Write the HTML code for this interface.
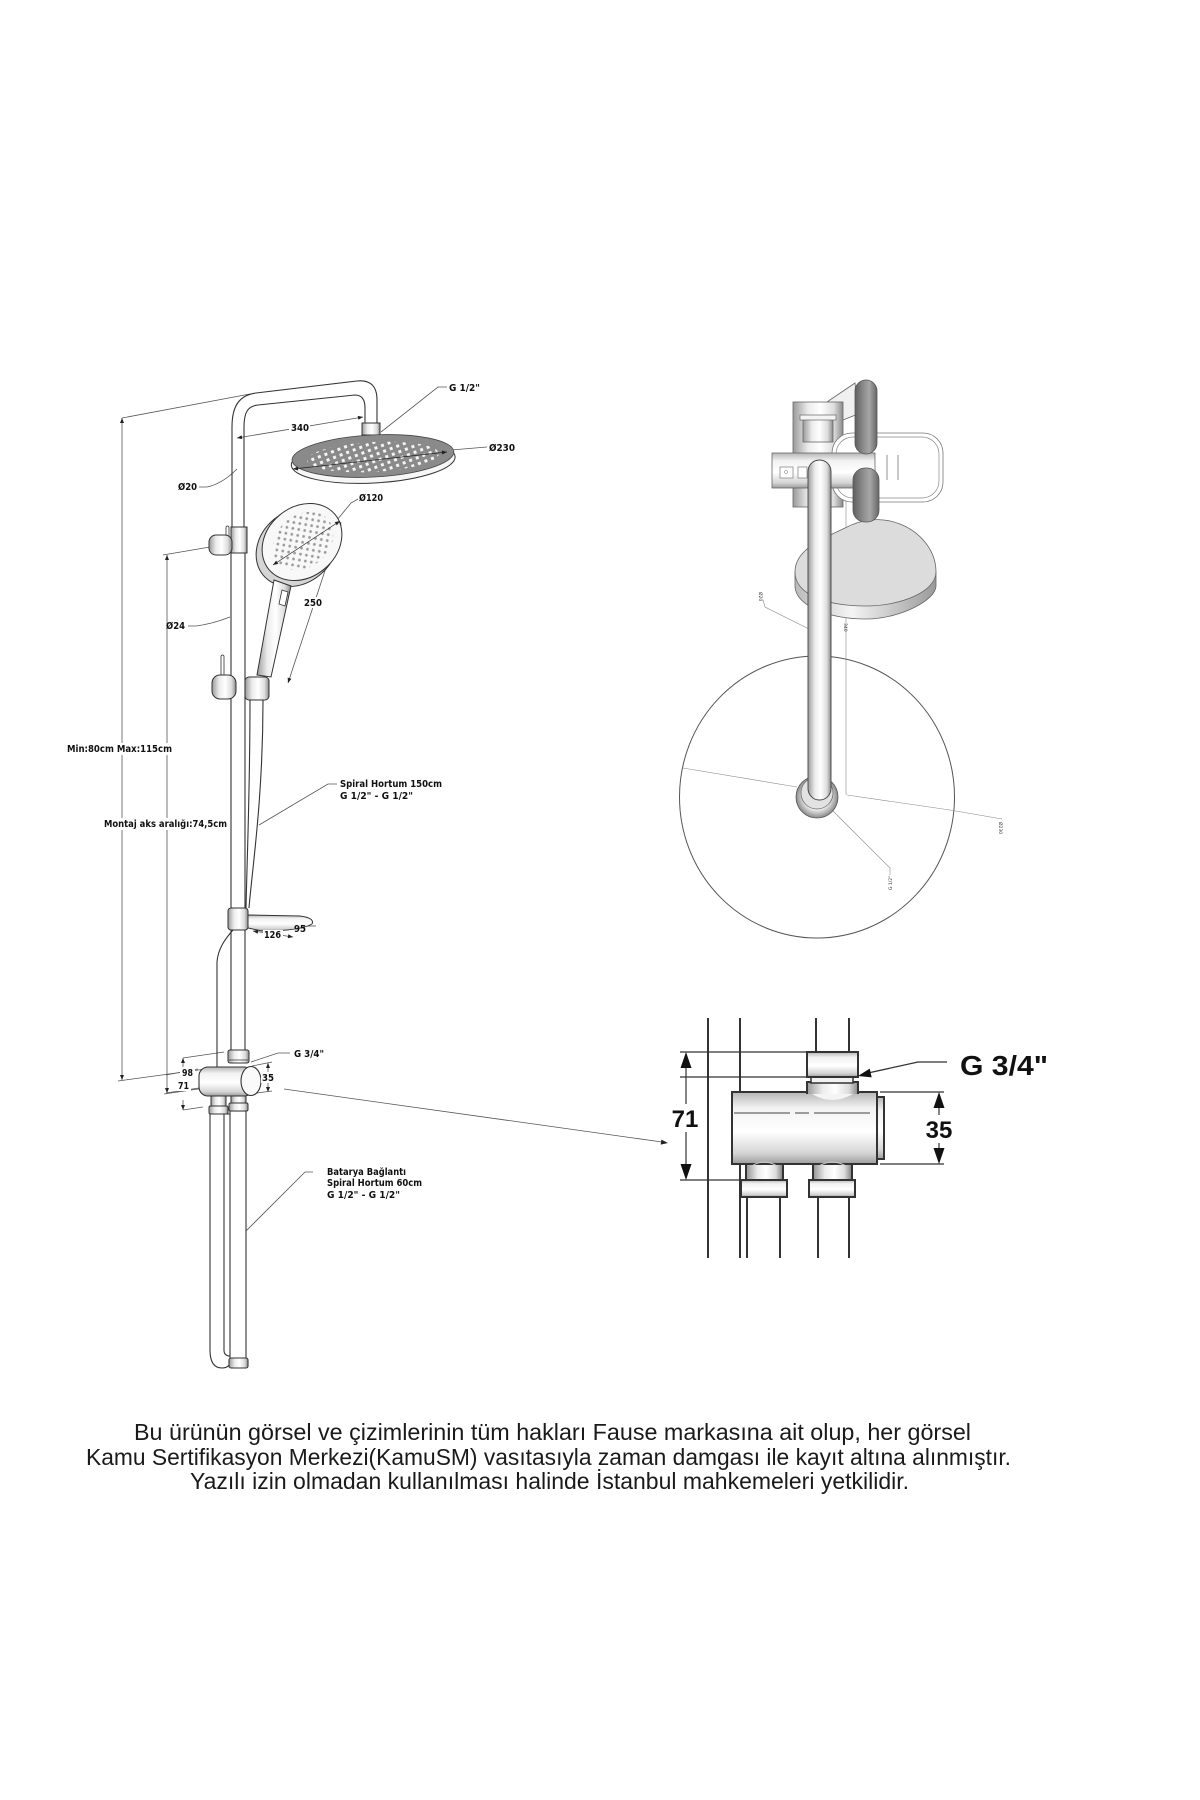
<!DOCTYPE html>
<html><head><meta charset="utf-8">
<style>html,body{margin:0;padding:0;background:#fff}svg{display:block}
.lb{font-family:"DejaVu Sans","Liberation Sans",sans-serif;font-weight:bold;font-size:9.5px;fill:#111}
.big{font-family:"Liberation Sans","DejaVu Sans",sans-serif;font-weight:bold;fill:#111}
.ft{font-family:"Liberation Sans","DejaVu Sans",sans-serif;font-size:23px;fill:#1a1a1a}
.tiny{font-family:"DejaVu Sans",sans-serif;font-size:4.5px;fill:#333}
</style></head>
<body>
<svg width="1200" height="1800" viewBox="0 0 1200 1800" xmlns="http://www.w3.org/2000/svg">
<defs>
 <marker id="ar" viewBox="0 0 10 10" refX="10" refY="5" markerWidth="6" markerHeight="5" markerUnits="userSpaceOnUse" orient="auto-start-reverse"><path d="M0,1 L10,5 L0,9 Z" fill="#222"/></marker>
 <linearGradient id="gV" x1="0" y1="0" x2="1" y2="0">
  <stop offset="0" stop-color="#9a9a9a"/><stop offset=".3" stop-color="#ececec"/><stop offset=".55" stop-color="#fff"/><stop offset=".82" stop-color="#dcdcdc"/><stop offset="1" stop-color="#8a8a8a"/></linearGradient>
 <linearGradient id="gD" x1="0" y1="0" x2="1" y2="0">
  <stop offset="0" stop-color="#606060"/><stop offset=".4" stop-color="#8e8e8e"/><stop offset=".65" stop-color="#a6a6a6"/><stop offset="1" stop-color="#666"/></linearGradient>
 <linearGradient id="gH" x1="0" y1="0" x2="0" y2="1">
  <stop offset="0" stop-color="#b5b5b5"/><stop offset=".22" stop-color="#f2f2f2"/><stop offset=".55" stop-color="#fff"/><stop offset=".85" stop-color="#d5d5d5"/><stop offset="1" stop-color="#9c9c9c"/></linearGradient>
 <linearGradient id="gRim" x1="0" y1="0" x2="1" y2="0">
  <stop offset="0" stop-color="#bbb"/><stop offset=".4" stop-color="#f4f4f4"/><stop offset="1" stop-color="#9a9a9a"/></linearGradient>
 <radialGradient id="gRing" cx=".5" cy=".5" r=".5"><stop offset=".6" stop-color="#eee"/><stop offset="1" stop-color="#8a8a8a"/></radialGradient>
 <pattern id="rd" width="7" height="6" patternUnits="userSpaceOnUse" patternTransform="rotate(-18)"><rect x="1" y="1" width="3" height="3" fill="#f4f4f4"/></pattern>
 <pattern id="hd" width="6" height="6" patternUnits="userSpaceOnUse" patternTransform="rotate(-40)"><circle cx="3" cy="3" r="1.4" fill="#9a9a9a"/></pattern>
</defs>
<rect width="1200" height="1800" fill="#fff"/>

<!-- ============ LEFT DRAWING ============ -->
<g fill="none" stroke="#555" stroke-width="0.8">
 <line x1="122" y1="418" x2="122" y2="1080" marker-start="url(#ar)" marker-end="url(#ar)"/>
 <line x1="122" y1="418" x2="250" y2="394"/>
 <line x1="118" y1="1081" x2="213" y2="1068"/>
 <line x1="167" y1="555" x2="167" y2="1093" marker-start="url(#ar)" marker-end="url(#ar)"/>
 <line x1="163" y1="555" x2="210" y2="547"/>
 <line x1="164" y1="1094" x2="205" y2="1088"/>
 <!-- 340 -->
 <line x1="237" y1="438" x2="363" y2="417" marker-start="url(#ar)" marker-end="url(#ar)"/>
 <!-- Ø20 -->
 <path d="M199,487 L207,487 Q222,484 237,469"/>
 <!-- Ø24 -->
 <path d="M188,626 L196,626 Q212,624 230,617"/>
 <!-- G1/2 leader -->
 <path d="M447,387 L438,387 L381,432"/>
 <!-- Ø230 leader -->
 <line x1="451" y1="450" x2="487" y2="447"/>
 <!-- Ø120 leader -->
 <path d="M358,499 L351,503 L337,520"/>
 <!-- 250 -->
 <line x1="341" y1="522" x2="288" y2="683" marker-start="url(#ar)" marker-end="url(#ar)"/>
 <!-- spiral leader -->
 <path d="M337,784 L328,784 L259,825"/>
 <!-- batarya leader -->
 <path d="M313,1172 L305,1172 L242,1235"/>
 <!-- G3/4 small leader -->
 <path d="M290,1053 L278,1053 L251,1062"/>
 <!-- 98/71 dims -->
 <line x1="183" y1="1058" x2="183" y2="1067" marker-start="url(#ar)"/>
 <line x1="183" y1="1100" x2="183" y2="1110" marker-end="url(#ar)"/>
 <line x1="183" y1="1058" x2="224" y2="1052"/>
 <line x1="183" y1="1110" x2="203" y2="1107"/>
 <line x1="166" y1="1075" x2="198" y2="1069"/>
 <line x1="166" y1="1093" x2="199" y2="1088"/>
 <!-- 35 small -->
 <line x1="268" y1="1063" x2="268" y2="1092" marker-start="url(#ar)" marker-end="url(#ar)"/>
 <line x1="252" y1="1066" x2="272" y2="1062"/>
 <line x1="257" y1="1093" x2="272" y2="1091"/>
 <!-- 126 / 95 -->
 <line x1="253" y1="931" x2="293" y2="937" marker-start="url(#ar)" marker-end="url(#ar)"/>
 <line x1="307" y1="926" x2="316" y2="926"/>
 <!-- long connector -->
 <line x1="284" y1="1089" x2="662" y2="1142"/>
</g>
<polygon points="668,1143 660.7,1144.6 661.4,1139.6" fill="#222"/>

<!-- poles -->
<g stroke="#333" stroke-width="1.1" fill="none">
 <path d="M232,527 L232,427 C232,405 240,395 256,393 L357,381 Q377,379 377,400 L377,424"/>
 <path d="M244,527 L244,427 C244,412 248,406 258,405 L355,395 Q365,395 365,408 L365,424"/>
 <line x1="231" y1="553" x2="231" y2="1050"/>
 <line x1="245" y1="553" x2="245" y2="1050"/>
 <!-- hose between slider and dish -->
 <path d="M250,700 C250,790 247,860 246,908"/>
 <path d="M263,700 C263,800 252,870 249,908"/>
 <!-- hose below dish -->
 <path d="M233,930 C226,938 218,948 217,962 L217,1068"/>
</g>
<!-- connector -->
<rect x="362" y="423" width="18" height="12" fill="url(#gV)" stroke="#333" stroke-width="1"/>
<!-- rain head -->
<g transform="rotate(-3 373 457)">
 <ellipse cx="373" cy="461" rx="82" ry="22" fill="#f6f6f6" stroke="#333" stroke-width="1"/>
 <ellipse cx="373" cy="456" rx="81" ry="21" fill="#8a8a8a" stroke="#444" stroke-width="0.8"/>
 <ellipse cx="373" cy="457" rx="66" ry="15" fill="url(#rd)"/>
</g>
<line x1="293" y1="469" x2="447" y2="452" stroke="#222" stroke-width="0.7" marker-start="url(#ar)" marker-end="url(#ar)"/>
<!-- upper collar & knob -->
<rect x="231" y="527" width="16" height="26" fill="url(#gV)" stroke="#333" stroke-width="1"/>
<rect x="226" y="526" width="3" height="12" rx="1.5" fill="#fff" stroke="#333" stroke-width="0.8"/>
<rect x="209" y="535" width="23" height="20" rx="7" fill="url(#gV)" stroke="#333" stroke-width="1"/>
<!-- hand shower -->
<ellipse cx="297" cy="547" rx="44" ry="36" transform="rotate(-40 297 547)" fill="#d5d5d5" stroke="#333" stroke-width="1"/>
<ellipse cx="302" cy="542" rx="43" ry="35" transform="rotate(-40 302 542)" fill="#f8f8f8" stroke="#333" stroke-width="1"/>
<ellipse cx="303" cy="541" rx="33" ry="26" transform="rotate(-40 303 541)" fill="url(#hd)"/>
<line x1="273" y1="565" x2="340" y2="521" stroke="#222" stroke-width="0.7" marker-start="url(#ar)" marker-end="url(#ar)"/>
<path d="M274,580 L291,586 L271,677 L257,675 Z" fill="url(#gV)" stroke="#333" stroke-width="1"/>
<path d="M282,590 L288,592 L285,606 L279,604 Z" fill="#fff" stroke="#333" stroke-width="0.8"/>
<!-- slider -->
<rect x="221" y="655" width="3" height="21" rx="1.5" fill="#fff" stroke="#333" stroke-width="0.8"/>
<rect x="245" y="677" width="24" height="23" rx="4" fill="url(#gV)" stroke="#333" stroke-width="1"/>
<rect x="212" y="675" width="24" height="24" rx="8" fill="url(#gV)" stroke="#333" stroke-width="1"/>
<!-- soap dish -->
<path d="M248,915 L300,916 Q315,918 312,924 Q300,931 262,931 L248,928 Z" fill="url(#gH)" stroke="#333" stroke-width="1"/>
<rect x="228" y="908" width="20" height="22" rx="3" fill="url(#gV)" stroke="#333" stroke-width="1"/>
<!-- lower pipes -->
<g stroke="#333" stroke-width="1.1" fill="#fff">
 <path d="M210,1114 L210,1350 Q210,1368 222,1368 Q231,1368 231,1358 L231,1114 Z" fill="#fff"/>
 <path d="M224,1114 L224,1350 Q224,1356 230,1356" fill="none"/>
 <rect x="230" y="1111" width="16" height="248" fill="#fff"/>
 <rect x="229" y="1358" width="19" height="10" rx="2" fill="url(#gV)"/>
</g>
<!-- diverter -->
<rect x="228" y="1050" width="21" height="13" rx="2" fill="url(#gV)" stroke="#333" stroke-width="1"/>
<line x1="229" y1="1060" x2="248" y2="1060" stroke="#333" stroke-width="0.7"/>
<rect x="211" y="1093" width="15" height="14" fill="url(#gV)" stroke="#333" stroke-width="1"/>
<rect x="231" y="1093" width="15" height="11" fill="url(#gV)" stroke="#333" stroke-width="1"/>
<rect x="209" y="1106" width="19" height="8" rx="1.5" fill="url(#gV)" stroke="#333" stroke-width="1"/>
<rect x="229" y="1103" width="19" height="8" rx="1.5" fill="url(#gV)" stroke="#333" stroke-width="1"/>
<rect x="199" y="1067" width="54" height="29" rx="9" fill="url(#gH)" stroke="#333" stroke-width="1.1"/>
<ellipse cx="251" cy="1081" rx="10" ry="14.5" fill="#fafafa" stroke="#333" stroke-width="1.1"/>

<!-- label backgrounds -->
<g fill="#fff">
 <rect x="66" y="743" width="108" height="12"/>
 <rect x="103" y="818" width="126" height="12"/>
 <rect x="289" y="421" width="21" height="11"/>
 <rect x="302" y="597" width="22" height="11"/>
 <rect x="263" y="930" width="20" height="10"/>
 <rect x="180" y="1067" width="15" height="11"/>
 <rect x="176" y="1080" width="15" height="11"/>
 <rect x="261" y="1072" width="14" height="11"/>
</g>
<!-- labels -->
<text class="lb" x="449" y="391" textLength="31" lengthAdjust="spacingAndGlyphs">G 1/2"</text>
<text class="lb" x="489" y="451" textLength="26" lengthAdjust="spacingAndGlyphs">Ø230</text>
<text class="lb" x="291" y="431" textLength="18" lengthAdjust="spacingAndGlyphs">340</text>
<text class="lb" x="178" y="490" textLength="19" lengthAdjust="spacingAndGlyphs">Ø20</text>
<text class="lb" x="359" y="501" textLength="24" lengthAdjust="spacingAndGlyphs">Ø120</text>
<text class="lb" x="304" y="606" textLength="18" lengthAdjust="spacingAndGlyphs">250</text>
<text class="lb" x="166" y="629" textLength="19" lengthAdjust="spacingAndGlyphs">Ø24</text>
<text class="lb" x="67" y="752" textLength="105" lengthAdjust="spacingAndGlyphs">Min:80cm Max:115cm</text>
<text class="lb" x="340" y="787" textLength="102" lengthAdjust="spacingAndGlyphs">Spiral Hortum 150cm</text>
<text class="lb" x="340" y="799" textLength="73" lengthAdjust="spacingAndGlyphs">G 1/2" - G 1/2"</text>
<text class="lb" x="104" y="827" textLength="123" lengthAdjust="spacingAndGlyphs">Montaj aks aralığı:74,5cm</text>
<text class="lb" x="294" y="932" textLength="12" lengthAdjust="spacingAndGlyphs">95</text>
<text class="lb" x="264" y="938" textLength="17" lengthAdjust="spacingAndGlyphs">126</text>
<text class="lb" x="294" y="1057" textLength="30" lengthAdjust="spacingAndGlyphs">G 3/4"</text>
<text class="lb" x="182" y="1076" textLength="11" lengthAdjust="spacingAndGlyphs">98</text>
<text class="lb" x="178" y="1089" textLength="11" lengthAdjust="spacingAndGlyphs">71</text>
<text class="lb" x="262" y="1081" textLength="12" lengthAdjust="spacingAndGlyphs">35</text>
<text class="lb" x="327" y="1175" textLength="79" lengthAdjust="spacingAndGlyphs">Batarya Bağlantı</text>
<text class="lb" x="327" y="1186" textLength="95" lengthAdjust="spacingAndGlyphs">Spiral Hortum 60cm</text>
<text class="lb" x="327" y="1198" textLength="73" lengthAdjust="spacingAndGlyphs">G 1/2" - G 1/2"</text>

<!-- ============ RIGHT TOP VIEW ============ -->
<ellipse cx="817" cy="797" rx="137.5" ry="141" fill="none" stroke="#555" stroke-width="1"/>
<g stroke="#888" stroke-width="0.6" fill="none">
 <line x1="846" y1="463" x2="846" y2="795"/>
 <path d="M683,768 L797,787"/>
 <path d="M847,795 L950,810 L1002,819"/>
 <path d="M763,600 L765,607 L811,630"/>
 <path d="M825,803 L890,868 L890,875"/>
</g>
<!-- back block -->
<polygon points="827,402 855,383 858,414 843,420" fill="#f0f0f0" stroke="#666" stroke-width="0.8"/>
<rect x="793" y="402" width="50" height="105" fill="url(#gV)" stroke="#666" stroke-width="0.8"/>
<rect x="803" y="418" width="30" height="24" fill="url(#gV)" stroke="#666" stroke-width="0.8"/>
<rect x="800" y="415" width="36" height="5" fill="#f4f4f4" stroke="#666" stroke-width="0.7"/>
<!-- soap dish outline -->
<rect x="832" y="433" width="111" height="69" rx="20" fill="#fff" stroke="#777" stroke-width="0.8"/>
<rect x="836" y="437" width="103" height="61" rx="17" fill="#fff" stroke="#888" stroke-width="0.7"/>
<line x1="887" y1="455" x2="887" y2="480" stroke="#777" stroke-width="0.8"/>
<line x1="898" y1="455" x2="898" y2="480" stroke="#777" stroke-width="0.8"/>
<!-- bar -->
<rect x="772" y="453" width="103" height="35" fill="url(#gH)" stroke="#666" stroke-width="0.8"/>
<rect x="780" y="467" width="13" height="11" fill="#fff" stroke="#666" stroke-width="0.6"/>
<circle cx="786" cy="472" r="1.5" fill="none" stroke="#666" stroke-width="0.5"/>
<rect x="798" y="467" width="9" height="11" fill="#fff" stroke="#666" stroke-width="0.6"/>
<!-- dark pipes -->
<rect x="855" y="380" width="22" height="74" rx="11" fill="url(#gD)" stroke="#555" stroke-width="0.8"/>
<!-- blob -->
<path d="M795,572 L795,586 C795,606 830,619 866,619 C900,619 936,600 936,586 L936,572 Z" fill="url(#gRim)" stroke="#666" stroke-width="0.8"/>
<path d="M795,572 C795,550 820,540 845,528 C860,520 880,516 900,524 C920,532 936,550 936,572 C936,592 900,606 866,606 C830,606 795,596 795,572 Z" fill="#dcdcdc" stroke="#666" stroke-width="0.8"/>
<rect x="853" y="468" width="26" height="54" rx="12" fill="url(#gD)" stroke="#555" stroke-width="0.8"/>
<!-- ring and arm -->
<circle cx="817" cy="797" r="21" fill="url(#gRing)" stroke="#555" stroke-width="0.8"/>
<circle cx="817" cy="793" r="16" fill="#e2e2e2" stroke="#666" stroke-width="0.7"/>
<rect x="808" y="460" width="23" height="340" rx="11.5" fill="url(#gV)" stroke="#444" stroke-width="0.9"/>
<text class="tiny" transform="translate(844,623) rotate(90)">340</text>
<text class="tiny" transform="translate(759,592) rotate(90)">Ø20</text>
<text class="tiny" transform="translate(999,822) rotate(90)">Ø230</text>
<text class="tiny" transform="translate(892,890) rotate(-90)">G 1/2"</text>

<!-- ============ BOTTOM RIGHT DETAIL ============ -->
<g stroke="#333" stroke-width="2" fill="none">
 <line x1="708" y1="1018" x2="708" y2="1258"/>
 <line x1="740" y1="1018" x2="740" y2="1258"/>
 <line x1="816" y1="1018" x2="816" y2="1053"/>
 <line x1="849" y1="1018" x2="849" y2="1053"/>
 <line x1="747" y1="1196" x2="747" y2="1258"/>
 <line x1="780" y1="1196" x2="780" y2="1258"/>
 <line x1="818" y1="1196" x2="818" y2="1258"/>
 <line x1="849" y1="1196" x2="849" y2="1258"/>
</g>
<g stroke="#333" stroke-width="1.2" fill="none">
 <line x1="680" y1="1052" x2="807" y2="1052"/>
 <line x1="680" y1="1077" x2="858" y2="1077"/>
 <line x1="680" y1="1180" x2="741" y2="1180"/>
 <line x1="880" y1="1092" x2="944" y2="1092"/>
 <line x1="880" y1="1164" x2="944" y2="1164"/>
 <line x1="686" y1="1060" x2="686" y2="1172"/>
 <line x1="939" y1="1100" x2="939" y2="1156"/>
</g>
<polygon points="686,1052 680.5,1068 691.5,1068" fill="#111"/>
<polygon points="686,1180 680.5,1164 691.5,1164" fill="#111"/>
<polygon points="939,1092 933.5,1108 944.5,1108" fill="#111"/>
<polygon points="939,1164 933.5,1148 944.5,1148" fill="#111"/>
<!-- body -->
<rect x="732" y="1092" width="145" height="72" fill="url(#gH)" stroke="#333" stroke-width="2"/>
<rect x="877" y="1097" width="7" height="62" fill="url(#gH)" stroke="#333" stroke-width="2"/>
<line x1="734" y1="1113" x2="870" y2="1113" stroke="#444" stroke-width="1" stroke-dasharray="56 5 14 5"/>
<!-- neck -->
<path d="M807,1094 L807,1082 L858,1082 L858,1094" fill="url(#gV)" stroke="#333" stroke-width="2"/>
<path d="M812,1094 Q832,1106 853,1094 Z" fill="#f4f4f4"/>
<rect x="811" y="1077" width="42" height="6" fill="#f2f2f2" stroke="#333" stroke-width="1.5"/>
<rect x="807" y="1052" width="51" height="25" fill="url(#gH)" stroke="#333" stroke-width="2"/>
<!-- bottom stubs -->
<path d="M746,1163 L746,1180 M783,1163 L783,1180" stroke="#333" stroke-width="2"/>
<rect x="747" y="1165" width="35" height="15" fill="url(#gV)"/>
<path d="M813,1163 L813,1180 M852,1163 L852,1180" stroke="#333" stroke-width="2"/>
<rect x="814" y="1165" width="37" height="15" fill="url(#gV)"/>
<path d="M752,1166 Q764,1158 777,1166" fill="none" stroke="#ccc" stroke-width="1"/>
<path d="M819,1166 Q832,1158 846,1166" fill="none" stroke="#ccc" stroke-width="1"/>
<rect x="741" y="1180" width="46" height="17" fill="url(#gH)" stroke="#333" stroke-width="2"/>
<rect x="809" y="1180" width="46" height="17" fill="url(#gH)" stroke="#333" stroke-width="2"/>
<!-- G3/4 leader -->
<path d="M947,1062 L918,1062 L868,1073" fill="none" stroke="#333" stroke-width="1.3"/>
<polygon points="858,1076 871.7,1077.4 869.7,1068.6" fill="#111"/>
<!-- detail labels -->
<rect x="671" y="1104" width="30" height="28" fill="#fff"/>
<rect x="924" y="1115" width="30" height="28" fill="#fff"/>
<text class="big" x="685" y="1127" font-size="24" text-anchor="middle">71</text>
<text class="big" x="939" y="1138" font-size="24" text-anchor="middle">35</text>
<text class="big" x="960" y="1075" font-size="28" textLength="88" lengthAdjust="spacingAndGlyphs">G 3/4"</text>

<!-- ============ FOOTER ============ -->
<text class="ft" x="134" y="1440" textLength="837" lengthAdjust="spacingAndGlyphs">Bu ürünün görsel ve çizimlerinin tüm hakları Fause markasına ait olup, her görsel</text>
<text class="ft" x="86" y="1465" textLength="925" lengthAdjust="spacingAndGlyphs">Kamu Sertifikasyon Merkezi(KamuSM) vasıtasıyla zaman damgası ile kayıt altına alınmıştır.</text>
<text class="ft" x="190" y="1489" textLength="719" lengthAdjust="spacingAndGlyphs">Yazılı izin olmadan kullanılması halinde İstanbul mahkemeleri yetkilidir.</text>
</svg>
</body></html>
